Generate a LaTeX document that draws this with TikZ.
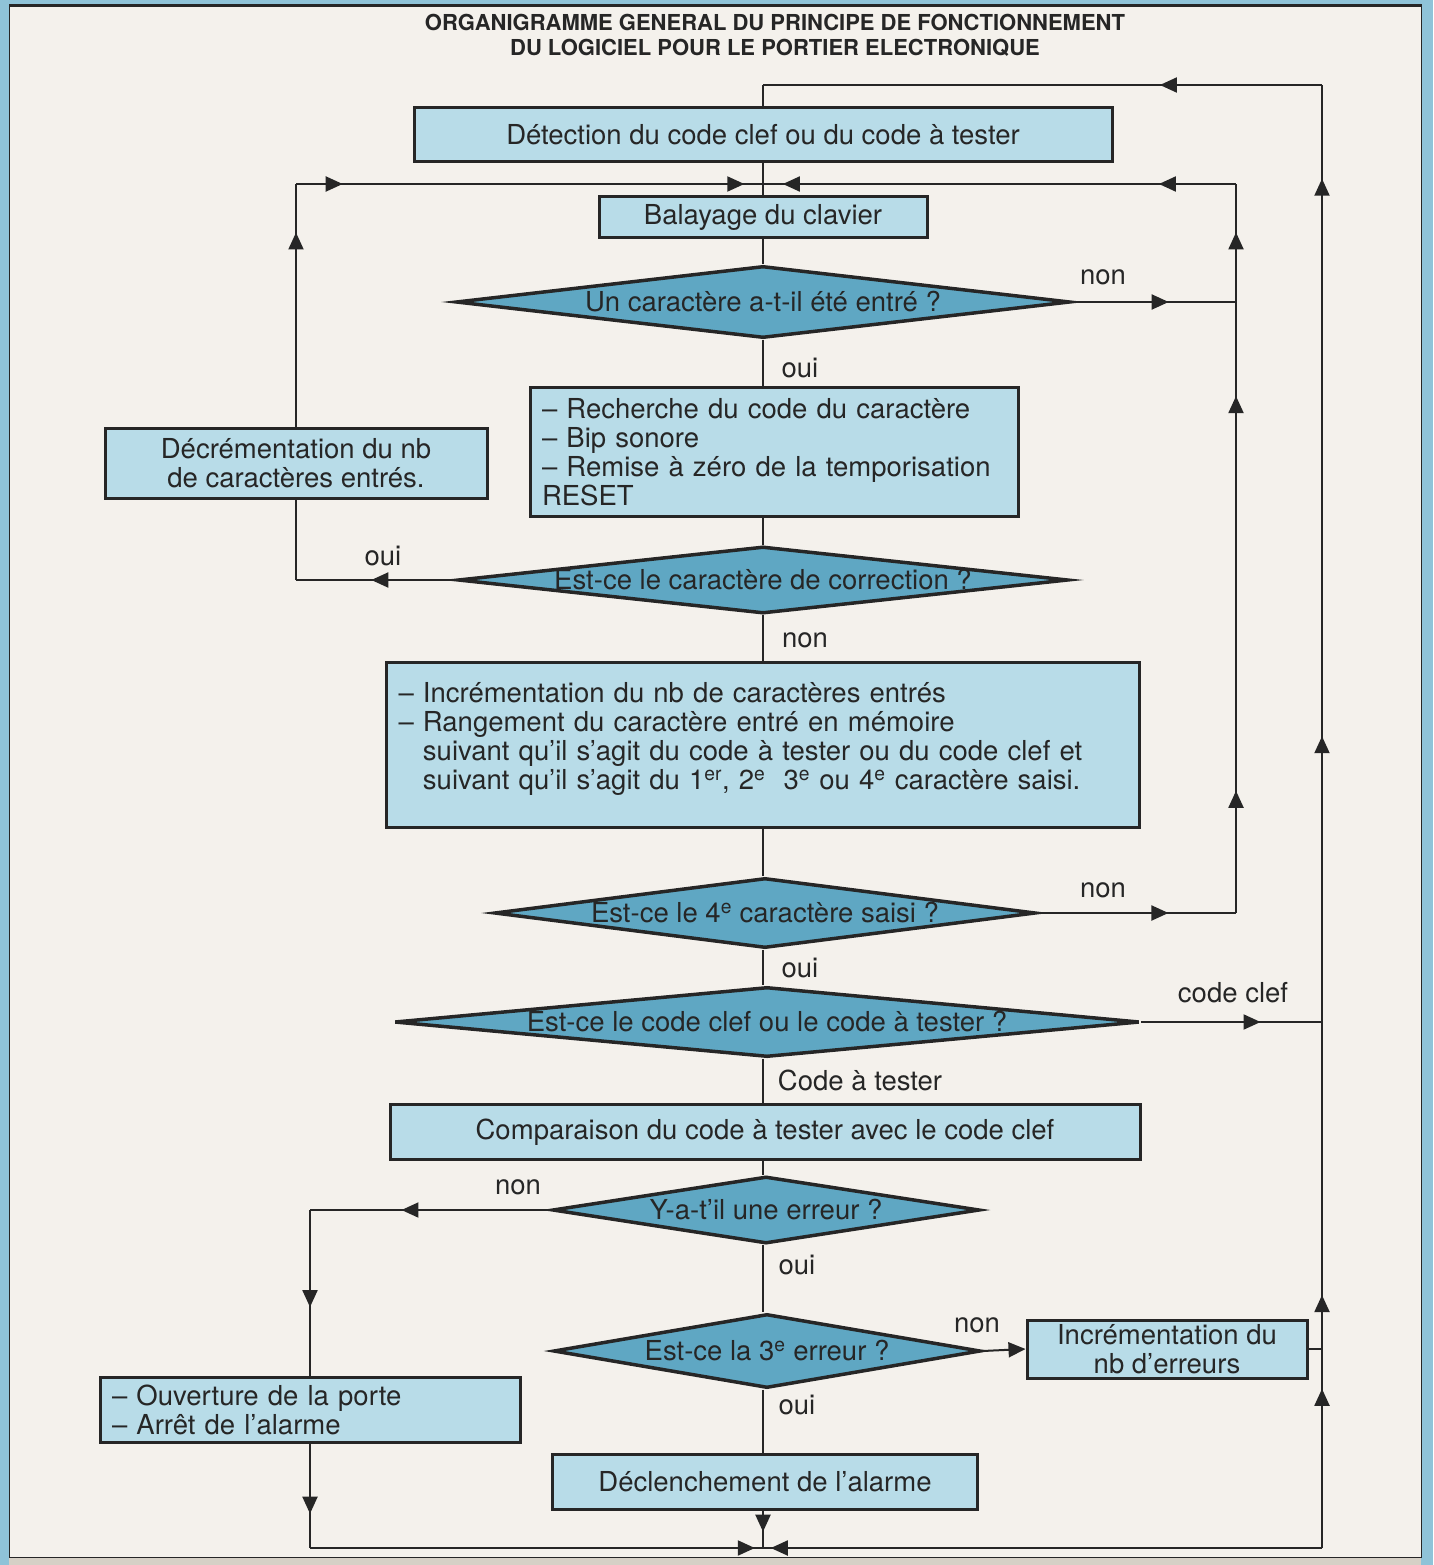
\documentclass[tikz,border=0pt]{standalone}
\usepackage{fontspec}
\setmainfont{TeX Gyre Heros}
\usetikzlibrary{positioning, arrows.meta, shapes.geometric, decorations.markings}

\definecolor{ink}{HTML}{262626}
\definecolor{paper}{HTML}{F4F1EC}
\definecolor{edgeblue}{HTML}{8FC3D8}
\definecolor{boxblue}{HTML}{B8DCE8}
\definecolor{diablue}{HTML}{5FA7C3}
\definecolor{footgrey}{HTML}{D6D0C6}

\tikzset{
  flow/.style={draw=ink, line width=2pt},
  arrowat/.style={postaction={decorate, decoration={markings, mark=at position #1 with {\arrow{>}}}}},
  box/.style={draw=ink, line width=3pt, fill=boxblue, inner sep=0pt, align=center},
  listbox/.style={box, align=left, inner xsep=12pt},
  decision/.style={diamond, draw=ink, line width=3.5pt, fill=diablue, inner sep=0pt},
  lbl/.style={inner sep=0pt}
}

\begin{document}
\begin{tikzpicture}[x=1pt, y=-1pt, >={Triangle[length=17pt,width=15pt]},
    every node/.style={font=\fontsize{27.5}{29}\selectfont, text=ink}]
\useasboundingbox (0,0) rectangle (1433,1565);
% page frame
\fill[edgeblue] (0,0) rectangle (1433,1565);
\fill[paper] (9,5) rectangle (1421,1557);
\fill[footgrey] (9,1557) rectangle (1421,1565);
\draw[ink, line width=1pt] (9,1557) -- (9,5) -- (1421,5) -- (1421,1557) -- cycle;
\draw[ink, line width=3pt] (9,6) -- (1421,6);

\node[font=\fontsize{22}{25}\bfseries\selectfont, align=center] (title) at (775,35)
  {ORGANIGRAMME GENERAL DU PRINCIPE DE FONCTIONNEMENT\\DU LOGICIEL POUR LE PORTIER ELECTRONIQUE};

% steps and tests
\node[box, minimum width=698, minimum height=54] (detect) at (763,135) {Détection du code clef ou du code à tester};
\node[box, minimum width=328, minimum height=41] (scan) at (763,217) {Balayage du clavier};
\node[decision, minimum width=614, minimum height=72, label=center:{Un caractère a-t-il été entré ?}] (qchar) at (763,302) {};
\node[listbox, text width=464, minimum height=129] (search) at (774,452)
  {– Recherche du code du caractère\\– Bip sonore\\– Remise à zéro de la temporisation\\RESET};
\node[box, minimum width=382, minimum height=70] (decr) at (296,463) {Décrémentation du nb\\de caractères entrés.};
\node[decision, minimum width=610, minimum height=67, label=center:{Est-ce le caractère de correction ?}] (qcorr) at (763,580) {};
\node[listbox, text width=729, minimum height=165] (incr) at (763,745)
  {– Incrémentation du nb de caractères entrés\\– Rangement du caractère entré en mémoire\\
   \hphantom{– }suivant qu'il s'agit du code à tester ou du code clef et\\
   \hphantom{– }suivant qu'il s'agit du 1\textsuperscript{er}, 2\textsuperscript{e}\ \ 3\textsuperscript{e} ou 4\textsuperscript{e} caractère saisi.\\[-11pt]\mbox{}};
\node[decision, minimum width=541, minimum height=70, label=center:{Est-ce le 4\textsuperscript{e} caractère saisi ?}] (qfour) at (765,913) {};
\node[decision, minimum width=745, minimum height=70, label=center:{Est-ce le code clef ou le code à tester ?}] (qkey) at (767,1022) {};
\node[box, minimum width=750, minimum height=55] (cmp) at (765,1132) {Comparaison du code à tester avec le code clef};
\node[decision, minimum width=427, minimum height=67, label=center:{Y-a-t'il une erreur ?}] (qerr) at (766,1210) {};
\node[decision, minimum width=427, minimum height=74, label=center:{Est-ce la 3\textsuperscript{e} erreur ?}] (qthird) at (767,1351) {};
\node[box, minimum width=280, minimum height=58] (errs) at (1167,1349) {Incrémentation du\\nb d'erreurs};
\node[listbox, text width=396, minimum height=65] (open) at (310,1410) {– Ouverture de la porte\\– Arrêt de l'alarme};
\node[box, minimum width=425, minimum height=55] (alarm) at (765,1482) {Déclenchement de l'alarme};

% answers
\node[lbl] (n1) at (1103,277) {non};
\node[lbl] (o1) at (800,368) {oui};
\node[lbl] (o2) at (383,556) {oui};
\node[lbl] (n2) at (805,640) {non};
\node[lbl] (n3) at (1103,890) {non};
\node[lbl] (o3) at (800,968) {oui};
\node[lbl] (k1) at (1233,993) {code clef};
\node[lbl] (t1) at (860,1080) {Code à tester};
\node[lbl] (n4) at (518,1187) {non};
\node[lbl] (o4) at (797,1265) {oui};
\node[lbl] (n5) at (977,1325) {non};
\node[lbl] (o5) at (797,1405) {oui};

% loop corners
\coordinate (topl) at (763,85);
\coordinate (topr) at (1322,85);
\coordinate (midc) at (763,184);
\coordinate (midr) at (1236,184);
\coordinate (midl) at (decr.north |- midc);
\coordinate (botc) at (763,1548);
\coordinate (botr) at (1322,1548);
\coordinate (botl) at (open.south |- botc);

% main axis
\draw[flow] (detect.south -| midc) -- (scan.north -| midc);
\draw[flow] (scan.south -| midc) -- (qchar.north);
\draw[flow] (qchar.south) -- (qchar.south |- search.north);
\draw[flow] (qchar.south |- search.south) -- (qcorr.north);
\draw[flow] (qcorr.south) -- (incr.north -| midc);
\draw[flow] (incr.south -| midc) -- (qfour.north -| midc);
\draw[flow] (qfour.south -| midc) -- (qkey.north -| midc);
\draw[flow] (qkey.south -| midc) -- (cmp.north -| midc);
\draw[flow] (cmp.south -| midc) -- (qerr.north -| midc);
\draw[flow] (qerr.south -| midc) -- (qthird.north -| midc);
\draw[flow] (qthird.south -| midc) -- (alarm.north -| midc);
\draw[flow, arrowat=0.56] (alarm.south -| midc) -- (botc);

% no character / not the 4th one
\draw[flow, arrowat=0.59] (qchar.east) -- (qchar.east -| midr);
\draw[flow, arrowat=0.59] (qchar.east -| midr) -- (midr);
\draw[flow, arrowat=0.163, arrowat=0.958] (midr) -- (midc);
\draw[flow, arrowat=0.66] (qfour.east) -- (qfour.east -| midr);
\draw[flow, arrowat=0.2, arrowat=0.846] (qfour.east -| midr) -- (qchar.east -| midr);

% correction
\draw[flow, arrowat=0.53] (qcorr.west) -- (qcorr.west -| decr.south);
\draw[flow] (qcorr.west -| decr.south) -- (decr.south);
\draw[flow, arrowat=0.8] (decr.north) -- (midl);
\draw[flow, arrowat=0.1, arrowat=0.96] (midl) -- (midc);

% key code back to the top
\draw[flow, arrowat=0.66] (qkey.east) -- (qkey.east -| topr);
\draw[flow, arrowat=0.305, arrowat=0.9] (qkey.east -| topr) -- (topr);
\draw[flow, arrowat=0.29] (topr) -- (topl);
\draw[flow] (topl) -- (detect.north -| topl);

% errors
\draw[flow, ->] (qthird.east) -- (errs.west);
\draw[flow] (errs.east) -- (botr |- errs.east);
\draw[flow, arrowat=0.165] (botr |- errs.east) -- (qkey.east -| topr);
\draw[flow, arrowat=0.8] (botr) -- (botr |- errs.east);
\draw[flow, arrowat=0.986] (botr) -- (botc);

% door opening
\draw[flow, arrowat=0.62] (qerr.west) -- (qerr.west -| open.north);
\draw[flow, arrowat=0.585] (qerr.west -| open.north) -- (open.north);
\draw[flow, arrowat=0.67] (open.south) -- (botl);
\draw[flow, arrowat=0.982] (botl) -- (botc);
\end{tikzpicture}
\end{document}
